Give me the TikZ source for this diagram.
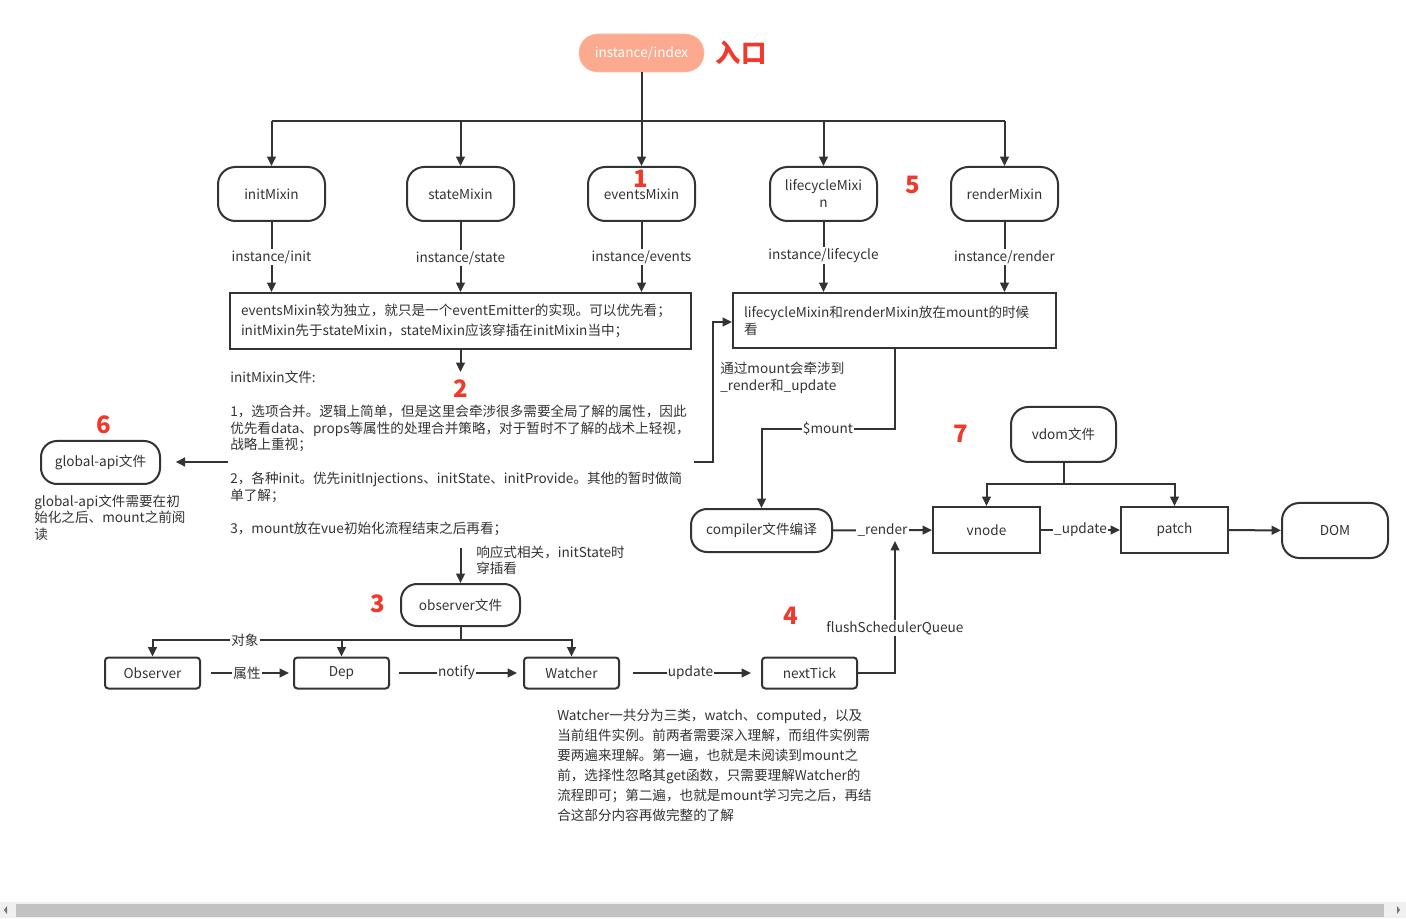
\documentclass[tikz,border=0pt]{standalone}
\usepackage{fontspec}
\setmainfont{Noto Sans CJK SC}
\usetikzlibrary{arrows.meta}
\definecolor{ink}{HTML}{333333}
\definecolor{rednum}{HTML}{F0392B}
\definecolor{salmon}{HTML}{FCAA8F}
\tikzset{
 base/.style={font=\fontsize{10.2pt}{12pt}\selectfont, text=ink},
 pill/.style={base, draw=ink, line width=1.5pt, rounded corners=13pt, minimum width=80.25pt, minimum height=40.5pt, align=center, inner sep=1pt},
 sbox/.style={base, draw=ink, line width=1.5pt, rounded corners=2.5pt, minimum width=71.25pt, minimum height=23.25pt},
 rbox/.style={base, draw=ink, line width=1.5pt, minimum width=80.25pt, minimum height=34.5pt},
 line/.style={draw=ink, line width=1.5pt},
 arr/.style={line, -{Triangle[length=7pt,width=6.5pt]}},
 lab/.style={base, fill=white, inner sep=1pt},
 num/.style={text=rednum, font=\fontsize{18pt}{18pt}\selectfont\bfseries, inner sep=0pt},
 para/.style={base, align=left, anchor=north west, inner sep=0pt},
}
\begin{document}
\begin{tikzpicture}[x=0.75pt,y=-0.75pt]
\useasboundingbox (0,0) rectangle (1406,919);
% scrollbar
\fill[fill=black!6] (0,902) rectangle (1406,918);
\fill[fill=black!24] (16,904) rectangle (1384,917);
\fill[black!55] (4,910) -- (7,906) -- (7,914) -- cycle;
\fill[black!55] (1400,910) -- (1397,906) -- (1397,914) -- cycle;

% entry
\node[base, fill=salmon, draw=salmon!80, text=white, rounded corners=14pt, minimum width=93.75pt, minimum height=28.5pt] (index) at (641.5,53) {instance/index};
\node[text=rednum, font=\fontsize{19pt}{19pt}\selectfont\bfseries, inner sep=0pt] (entry) at (741,53) {入口};

% mixins
\node[pill] (init) at (271.5,194) {initMixin};
\node[pill] (state) at (460.5,194) {stateMixin};
\node[pill] (events) at (641.5,194) {eventsMixin};
\node[pill, font=\fontsize{10.2pt}{12.75pt}\selectfont] (life) at (823.5,194) {lifecycleMixi\\n};
\node[pill] (render) at (1004.5,194) {renderMixin};

\coordinate (bus) at (641.5,121);
\draw[line] (index) -- (bus);
\draw[line] (bus -| init) -- (bus -| render);
\foreach \n in {init,state,events,life,render}{
  \draw[arr] (bus -| \n) -- (\n.north);
}

% box A and B
\node[base, draw=ink, line width=1.5pt, font=\fontsize{10.2pt}{15pt}\selectfont, minimum width=345.75pt, minimum height=42pt, text width=329.25pt, align=left, inner xsep=8.25pt] (boxA) at (460.5,321) {eventsMixin较为独立，就只是一个eventEmitter的实现。可以优先看；\\initMixin先于stateMixin，stateMixin应该穿插在initMixin当中；};
\node[base, draw=ink, line width=1.5pt, font=\fontsize{10.2pt}{12.75pt}\selectfont, minimum width=242.25pt, minimum height=41.25pt, text width=225.75pt, align=left, inner xsep=8.25pt] (boxB) at (894.5,320.5) {lifecycleMixin和renderMixin放在mount的时候\\看};

\draw[arr] (init.south) -- node[lab]{instance/init} (init.south |- boxA.north);
\draw[arr] (state.south) -- node[lab, yshift=-1pt]{instance/state} (state.south |- boxA.north);
\draw[arr] (events.south) -- node[lab]{instance/events} (events.south |- boxA.north);
\draw[arr] (life.south) -- node[lab, yshift=1pt]{instance/lifecycle} (life.south |- boxB.north);
\draw[arr] (render.south) -- node[lab]{instance/render} (render.south |- boxB.north);

\coordinate (a2) at (460.5,372);
\draw[arr] (boxA.south) -- (a2);

% red numbers
\node[num] (n1) at (641,179) {1};
\node[num] (n5) at (913,185) {5};
\node[num] (n2) at (461,389) {2};
\node[num] (n6) at (104,425) {6};
\node[num] (n7) at (961,434) {7};
\node[num] (n3) at (378,604) {3};
\node[num] (n4) at (791,616) {4};

% initMixin text
\node[para, font=\fontsize{10.2pt}{12.6pt}\selectfont] (itext) at (230,371) {initMixin文件:\\[12.6pt]
1，选项合并。逻辑上简单，但是这里会牵涉很多需要全局了解的属性，因此\\
优先看data、props等属性的处理合并策略，对于暂时不了解的战术上轻视，\\
战略上重视；\\[12.6pt]
2，各种init。优先initInjections、initState、initProvide。其他的暂时做简\\
单了解；\\[12.6pt]
3，mount放在vue初始化流程结束之后再看；};

% global api
\node[pill, minimum width=89.25pt, minimum height=32.25pt, rounded corners=12pt] (gapi) at (100.5,462.5) {global-api文件};
\coordinate (t1) at (228,462);
\draw[arr, shorten >=11pt] (t1) -- (t1 -| gapi.east);
\node[para, font=\fontsize{10.2pt}{12.4pt}\selectfont] (gtext) at (34,494.5) {global-api文件需要在初\\始化之后、mount之前阅\\读};

% to box B
\coordinate (t2) at (694,462);
\draw[arr] (t2) -- ++(19,0) |- (boxB.west |- 0,322);
\node[para, font=\fontsize{10.2pt}{12.75pt}\selectfont] (mtext) at (720,361.5) {通过mount会牵涉到\\\_render和\_update};

% render pipeline
\node[pill, minimum width=105.75pt, minimum height=32.25pt, rounded corners=12pt] (comp) at (761.5,530.5) {compiler文件编译};
\node[rbox] (vnode) at (986.5,530) {vnode};
\node[rbox] (patch) at (1174.5,530) {patch};
\node[pill, minimum width=79.5pt, minimum height=41.25pt] (dom) at (1335,530.5) {DOM};
\node[pill, minimum width=78.75pt, minimum height=41.25pt] (vdom) at (1063.5,434.5) {vdom文件};

\draw[arr] (boxB.south) -- ++(0,80) -| node[pos=0.25, lab]{\$mount} (comp.north);

\coordinate (vb) at (1063.5,484);
\draw[line] (vdom) -- (vb);
\draw[arr] (vb) -| (vnode);
\draw[arr] (vb) -| (patch);

\draw[arr] (comp) -- node[lab]{\_render} (vnode);
\draw[arr] (vnode) -- node[lab]{\_update} (patch);
\draw[arr] (patch) -- (dom);

% observer section
\node[para, font=\fontsize{10.2pt}{12pt}\selectfont] (rtext) at (476,545.5) {响应式相关，initState时\\穿插看};
\coordinate (ob0) at (460.5,548);
\node[pill, minimum width=89.25pt, minimum height=31.5pt, rounded corners=12pt] (obsf) at (460.5,605) {observer文件};
\draw[arr] (ob0) -- (obsf);

\node[sbox] (obs) at (152.5,673) {Observer};
\node[sbox] (dep) at (341.5,673) {Dep};
\node[sbox] (wat) at (571.5,673) {Watcher};
\node[sbox] (tick) at (809.5,673) {nextTick};

\coordinate (ob1) at (460.5,640);
\draw[line] (obsf) -- (ob1);
\draw[arr] (ob1) -| node[pos=0.35, lab]{对象} (obs);
\draw[arr] (ob1) -| (dep);
\draw[arr] (ob1) -| (wat);

\draw[arr, shorten <=7.5pt, shorten >=3pt] (obs) -- node[lab]{属性} (dep);
\draw[arr, shorten <=7pt, shorten >=4.5pt] (dep) -- node[lab]{notify} (wat);
\draw[arr, shorten <=9.5pt, shorten >=7.5pt] (wat) -- node[lab]{update} (tick);

\coordinate (rtip) at (895,541);
\draw[arr] (tick) -| node[pos=0.67, lab]{flushSchedulerQueue} (rtip);

\node[para, font=\fontsize{10.2pt}{15pt}\selectfont] (wtext) at (557,709) {Watcher一共分为三类，watch、computed，以及\\
当前组件实例。前两者需要深入理解，而组件实例需\\
要两遍来理解。第一遍，也就是未阅读到mount之\\
前，选择性忽略其get函数，只需要理解Watcher的\\
流程即可；第二遍，也就是mount学习完之后，再结\\
合这部分内容再做完整的了解};
\end{tikzpicture}
\end{document}
